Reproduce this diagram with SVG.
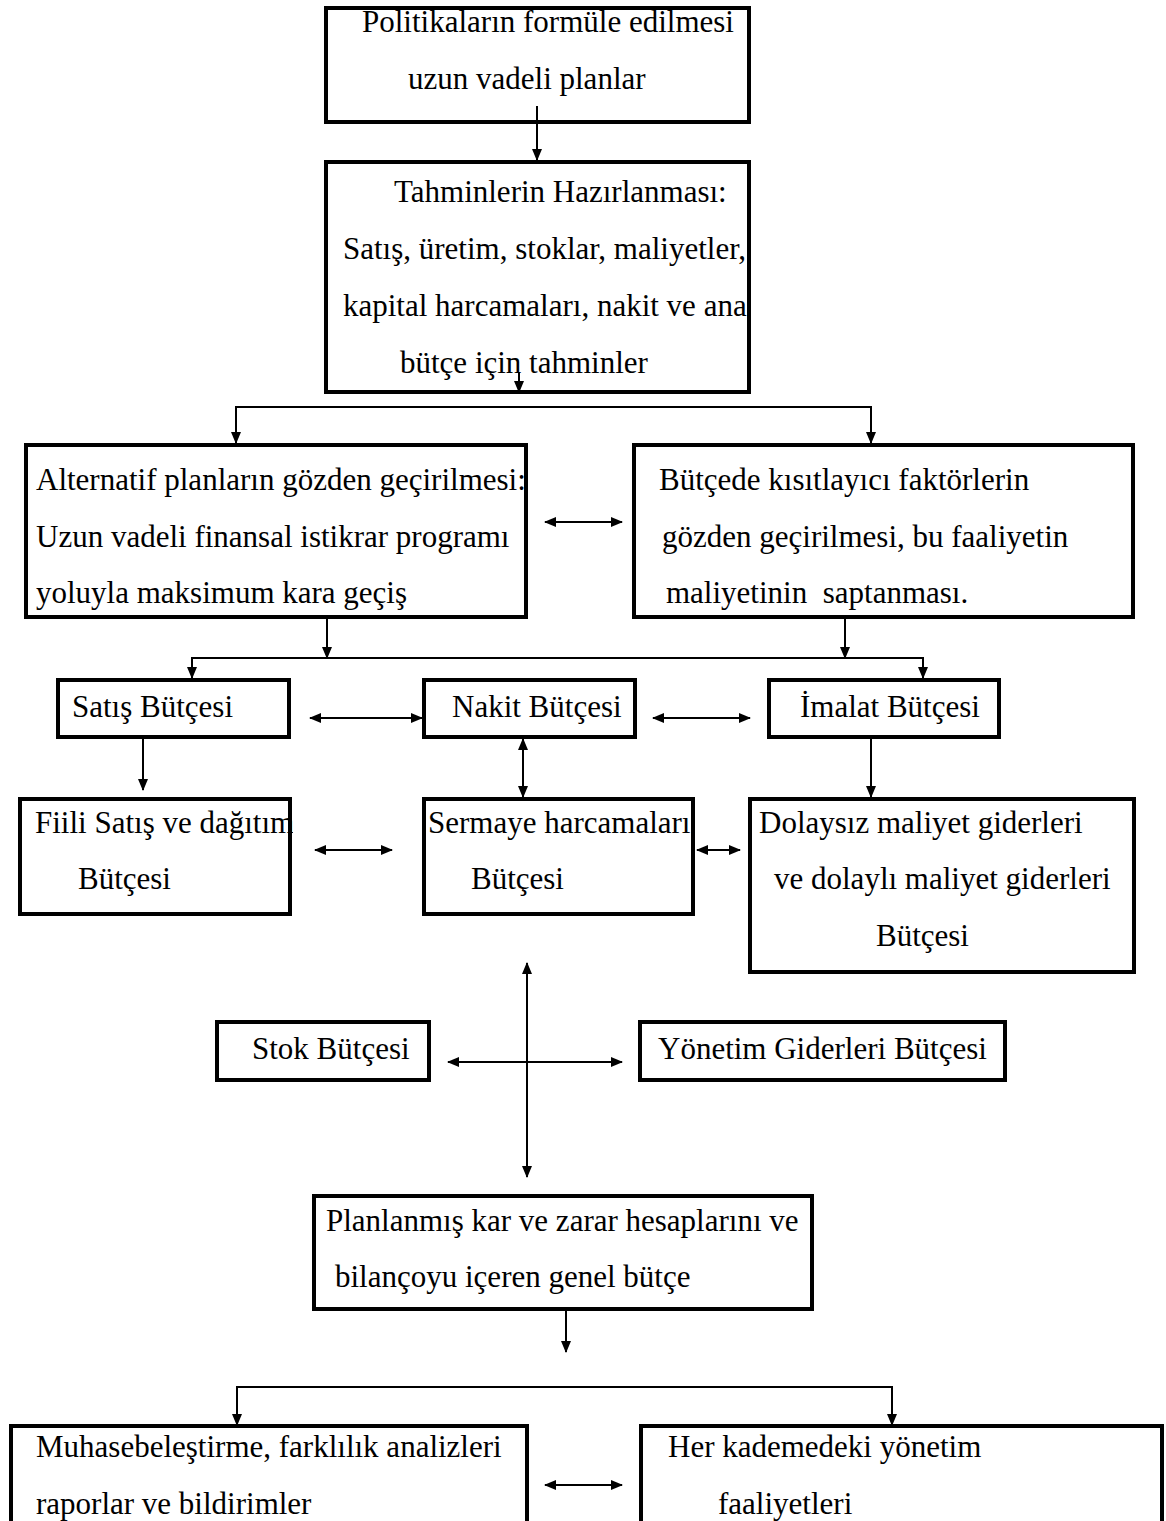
<svg xmlns="http://www.w3.org/2000/svg" width="1166" height="1521" viewBox="0 0 1166 1521">
<style>
.box{fill:#fff;stroke:#000;stroke-width:4}
.t{font-family:"Liberation Serif","Times New Roman",serif;font-size:31px;fill:#000}
.c{fill:none;stroke:#000;stroke-width:2}
</style>
<defs>
<marker id="ah" markerUnits="userSpaceOnUse" markerWidth="12" markerHeight="12" viewBox="0 0 12 12" refX="11" refY="6" orient="auto-start-reverse">
<path d="M0,1 L12,6 L0,11 Z" fill="#000"/>
</marker>
<clipPath id="cp2"><rect x="324" y="160" width="429" height="233"/></clipPath>
<clipPath id="cp3"><rect x="25" y="443" width="503" height="175"/></clipPath>
<clipPath id="cp7"><rect x="19" y="797" width="274" height="118"/></clipPath>
<clipPath id="cp8"><rect x="422" y="797" width="274" height="118"/></clipPath>
</defs>
<rect width="1166" height="1521" fill="#fff"/>

<g id="n1">
<rect class="box" x="326" y="8" width="423" height="114"/>
<text class="t" x="362" y="32">Politikaların formüle edilmesi</text>
<text class="t" x="408" y="89">uzun vadeli planlar</text>
</g>

<g id="n2">
<rect class="box" x="326" y="162" width="423" height="230"/>
<g clip-path="url(#cp2)">
<text class="t" x="394" y="202">Tahminlerin Hazırlanması:</text>
<text class="t" x="343" y="259">Satış, üretim, stoklar, maliyetler,</text>
<text class="t" x="343" y="316">kapital harcamaları, nakit ve ana</text>
<text class="t" x="400" y="373">bütçe için tahminler</text>
</g>
</g>

<g id="n3">
<rect class="box" x="26" y="445" width="500" height="172"/>
<g clip-path="url(#cp3)">
<text class="t" x="36" y="490">Alternatif planların gözden geçirilmesi:</text>
<text class="t" x="36" y="547">Uzun vadeli finansal istikrar programı</text>
<text class="t" x="36" y="603">yoluyla maksimum kara geçiş</text>
</g>
</g>

<g id="n4">
<rect class="box" x="634" y="445" width="499" height="172"/>
<text class="t" x="659" y="490">Bütçede kısıtlayıcı faktörlerin</text>
<text class="t" x="662" y="547">gözden geçirilmesi, bu faaliyetin</text>
<text class="t" x="666" y="603" xml:space="preserve">maliyetinin  saptanması.</text>
</g>

<g id="n5">
<rect class="box" x="58" y="680" width="231" height="57"/>
<text class="t" x="72" y="717">Satış Bütçesi</text>
</g>
<g id="n6">
<rect class="box" x="424" y="680" width="211" height="57"/>
<text class="t" x="452" y="717">Nakit Bütçesi</text>
</g>
<g id="n7">
<rect class="box" x="769" y="680" width="230" height="57"/>
<text class="t" x="800" y="717">İmalat Bütçesi</text>
</g>

<g id="n8">
<rect class="box" x="20" y="799" width="270" height="115"/>
<g clip-path="url(#cp7)">
<text class="t" x="35" y="833">Fiili Satış ve dağıtım</text>
</g>
<text class="t" x="78" y="889">Bütçesi</text>
</g>
<g id="n9">
<rect class="box" x="424" y="799" width="269" height="115"/>
<g clip-path="url(#cp8)">
<text class="t" x="428" y="833">Sermaye harcamaları</text>
</g>
<text class="t" x="471" y="889">Bütçesi</text>
</g>
<g id="n10">
<rect class="box" x="750" y="799" width="384" height="173"/>
<text class="t" x="759" y="833">Dolaysız maliyet giderleri</text>
<text class="t" x="774" y="889">ve dolaylı maliyet giderleri</text>
<text class="t" x="876" y="946">Bütçesi</text>
</g>

<g id="n11">
<rect class="box" x="217" y="1022" width="212" height="58"/>
<text class="t" x="252" y="1059">Stok Bütçesi</text>
</g>
<g id="n12">
<rect class="box" x="640" y="1022" width="365" height="58"/>
<text class="t" x="658" y="1059">Yönetim Giderleri Bütçesi</text>
</g>

<g id="n13">
<rect class="box" x="314" y="1196" width="498" height="113"/>
<text class="t" x="326" y="1231">Planlanmış kar ve zarar hesaplarını ve</text>
<text class="t" x="335" y="1287">bilançoyu içeren genel bütçe</text>
</g>

<g id="n14">
<rect class="box" x="11" y="1426" width="516" height="110"/>
<text class="t" x="36" y="1457">Muhasebeleştirme, farklılık analizleri</text>
<text class="t" x="36" y="1514">raporlar ve bildirimler</text>
</g>
<g id="n15">
<rect class="box" x="641" y="1426" width="521" height="110"/>
<text class="t" x="668" y="1457">Her kademedeki yönetim</text>
<text class="t" x="718" y="1514">faaliyetleri</text>
</g>

<g id="connectors">
<line class="c" x1="537" y1="106" x2="537" y2="160" marker-end="url(#ah)"/>
<line class="c" x1="519" y1="372" x2="519" y2="392" marker-end="url(#ah)"/>
<path class="c" d="M236,443 V407 H871 V443" marker-start="url(#ah)" marker-end="url(#ah)"/>
<line class="c" x1="545" y1="522" x2="622" y2="522" marker-start="url(#ah)" marker-end="url(#ah)"/>
<line class="c" x1="327" y1="619" x2="327" y2="658" marker-end="url(#ah)"/>
<line class="c" x1="845" y1="619" x2="845" y2="658" marker-end="url(#ah)"/>
<path class="c" d="M192,678 V658 H923 V678" marker-start="url(#ah)" marker-end="url(#ah)"/>
<line class="c" x1="310" y1="718" x2="422" y2="718" marker-start="url(#ah)" marker-end="url(#ah)"/>
<line class="c" x1="653" y1="718" x2="750" y2="718" marker-start="url(#ah)" marker-end="url(#ah)"/>
<line class="c" x1="143" y1="739" x2="143" y2="790" marker-end="url(#ah)"/>
<line class="c" x1="523" y1="739" x2="523" y2="797" marker-start="url(#ah)" marker-end="url(#ah)"/>
<line class="c" x1="871" y1="739" x2="871" y2="797" marker-end="url(#ah)"/>
<line class="c" x1="315" y1="850" x2="392" y2="850" marker-start="url(#ah)" marker-end="url(#ah)"/>
<line class="c" x1="697" y1="850" x2="740" y2="850" marker-start="url(#ah)" marker-end="url(#ah)"/>
<line class="c" x1="527" y1="963" x2="527" y2="1177" marker-start="url(#ah)" marker-end="url(#ah)"/>
<line class="c" x1="448" y1="1062" x2="622" y2="1062" marker-start="url(#ah)" marker-end="url(#ah)"/>
<line class="c" x1="566" y1="1311" x2="566" y2="1352" marker-end="url(#ah)"/>
<path class="c" d="M237,1425 V1387 H892 V1425" marker-start="url(#ah)" marker-end="url(#ah)"/>
<line class="c" x1="545" y1="1485" x2="622" y2="1485" marker-start="url(#ah)" marker-end="url(#ah)"/>
</g>
</svg>
